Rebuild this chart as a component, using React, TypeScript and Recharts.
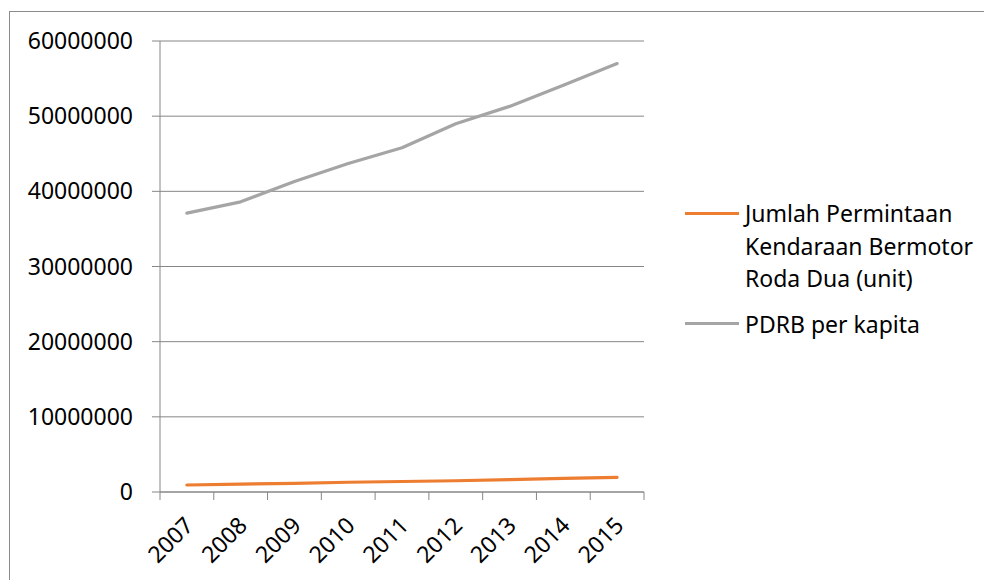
import React from "react";
import {
  LineChart,
  Line,
  XAxis,
  YAxis,
  CartesianGrid,
} from "recharts";

// tick labels / categories
const years = ["2007", "2008", "2009", "2010", "2011", "2012", "2013", "2014", "2015"];
const yTicks = [0, 10000000, 20000000, 30000000, 40000000, 50000000, 60000000];

// series values
const motorDemand = [930000, 1050000, 1150000, 1300000, 1400000, 1500000, 1650000, 1800000, 1950000];
const pdrbPerCapita = [37100000, 38600000, 41300000, 43700000, 45800000, 49000000, 51300000, 54100000, 57000000];

const series = [
  { key: "motor", name: "Jumlah Permintaan Kendaraan Bermotor Roda Dua (unit)", color: "#ED7D31" },
  { key: "pdrb", name: "PDRB per kapita", color: "#A5A5A5" },
];

const FONT = "'Noto Sans', sans-serif";
const AXIS = "#868686";

// x sits in the middle of each category band, so boundary ticks fall on integers
const data = years.map((year, i) => ({
  x: i + 0.5,
  year,
  motor: motorDemand[i],
  pdrb: pdrbPerCapita[i],
}));

const xTicks: number[] = [];
for (let i = 0; i <= years.length * 2; i++) xTicks.push(i / 2);

const XTick = (props: any) => {
  const { x, y, payload } = props;
  const v = payload.value as number;
  if (Number.isInteger(v)) {
    return (
      <g>
        <line x1={x} y1={y} x2={x} y2={y + 8} stroke={AXIS} strokeWidth={1} />
      </g>
    );
  }
  const label = years[Math.floor(v)];
  const tx = x + 8;
  const ty = y + 35;
  return (
    <g>
      <text
        x={tx}
        y={ty}
        textAnchor="end"
        fill="#000"
        fontSize={23}
        fontFamily={FONT}
        transform={`rotate(-45, ${tx}, ${ty})`}
      >
        {label}
      </text>
    </g>
  );
};

const App: React.FC = () => {
  return (
    <div
      style={{
        position: "absolute",
        left: 0,
        top: 0,
        width: 984,
        height: 580,
        overflow: "hidden",
        background: "#fff",
        fontFamily: FONT,
      }}
    >
      <style>{"html, body { margin: 0; overflow: hidden; }"}</style>

      {/* chart border: only its left and top edges are inside the picture */}
      <div
        style={{
          position: "absolute",
          left: 9,
          top: 11,
          width: 975,
          height: 569,
          boxSizing: "border-box",
          borderLeft: "1px solid #8c8c8c",
          borderTop: "1px solid #8c8c8c",
        }}
      />

      <div style={{ position: "absolute", left: 0, top: 0 }}>
        <LineChart
          width={984}
          height={580}
          data={data}
          margin={{ top: 41, right: 340, bottom: 58, left: 10 }}
        >
          <CartesianGrid horizontal vertical={false} stroke={AXIS} strokeWidth={1} />
          <XAxis
            dataKey="x"
            type="number"
            domain={[0, years.length]}
            ticks={xTicks}
            interval={0}
            allowDecimals
            height={30}
            tickLine={false}
            tickSize={0}
            tickMargin={0}
            axisLine={{ stroke: AXIS }}
            tick={<XTick />}
          />
          <YAxis
            width={150}
            domain={[0, 60000000]}
            ticks={yTicks}
            interval={0}
            tickSize={8}
            tickMargin={19}
            tickLine={{ stroke: AXIS }}
            axisLine={{ stroke: AXIS }}
            tick={{ fill: "#000", fontSize: 23, fontFamily: FONT }}
          />
          {series.map((s) => (
            <Line
              key={s.key}
              type="linear"
              dataKey={s.key}
              name={s.name}
              stroke={s.color}
              strokeWidth={3.2}
              strokeLinecap="round"
              strokeLinejoin="round"
              dot={false}
              activeDot={false}
              isAnimationActive={false}
            />
          ))}
        </LineChart>
      </div>

      {/* Legend */}
      <div style={{ position: "absolute", left: 685, top: 197, width: 295 }}>
        {series.map((s, i) => (
          <div
            key={s.key}
            style={{
              display: "flex",
              alignItems: "flex-start",
              marginTop: i === 0 ? 0 : 13,
            }}
          >
            <div
              style={{
                width: 54,
                height: 3,
                background: s.color,
                marginTop: 14.5,
                flexShrink: 0,
              }}
            />
            <div
              style={{
                marginLeft: 6,
                width: 232,
                fontSize: 23,
                lineHeight: "32.5px",
                color: "#000",
              }}
            >
              {s.name}
            </div>
          </div>
        ))}
      </div>
    </div>
  );
};

export default App;
